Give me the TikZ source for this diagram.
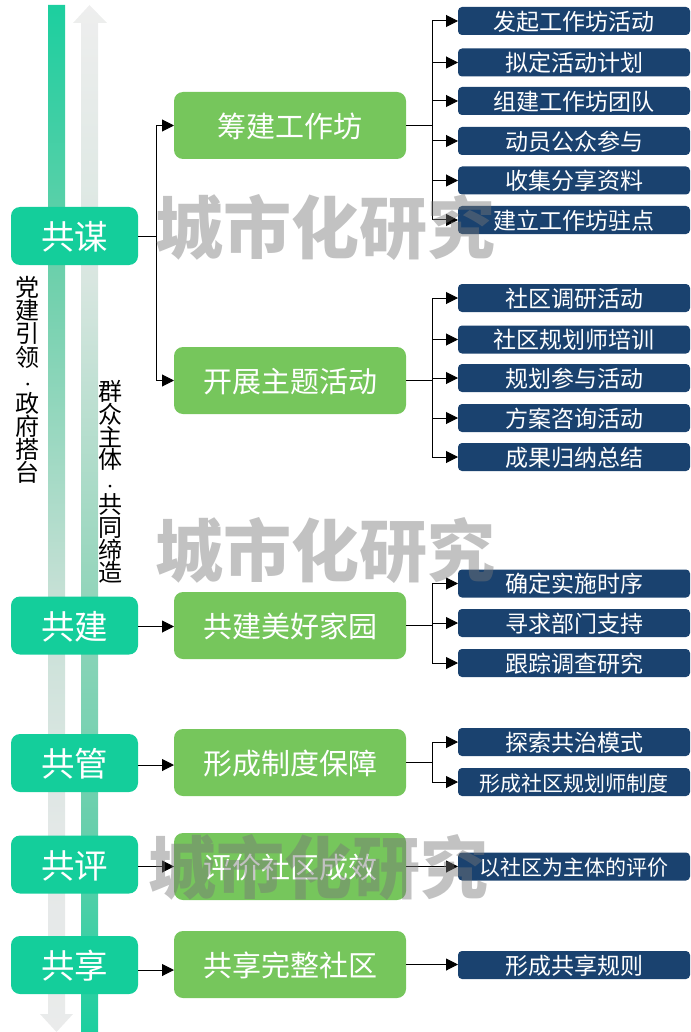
\documentclass[tikz,border=0pt]{standalone}
\usepackage{fontspec}
\setmainfont{Noto Sans CJK SC}
\usepackage{tikz}
\usetikzlibrary{arrows.meta,calc,positioning}
\definecolor{gongteal}{HTML}{14CE9B}
\definecolor{stagegreen}{HTML}{76C65C}
\definecolor{tasknavy}{HTML}{1A426F}
\definecolor{markgray}{HTML}{777777}
\definecolor{barfull}{HTML}{1CCF9F}
\definecolor{fallone}{HTML}{6FD0AC}
\definecolor{falltwo}{HTML}{C5E0D5}
\definecolor{fallthree}{HTML}{E3E8E7}
\definecolor{fallend}{HTML}{EAEBEB}
\definecolor{riseone}{HTML}{68CFAC}
\definecolor{risetwo}{HTML}{93D5BB}
\definecolor{risethree}{HTML}{D8E6E0}
\definecolor{riseend}{HTML}{EEEEEE}
\pgfdeclareverticalshading{barfall}{100bp}{color(0bp)=(fallend); color(25bp)=(fallend);
    color(35bp)=(fallthree); color(46.5bp)=(falltwo); color(61.6bp)=(fallone);
    color(75bp)=(barfull); color(100bp)=(barfull)}
\pgfdeclareverticalshading{barrise}{100bp}{color(0bp)=(barfull); color(25bp)=(barfull);
    color(35bp)=(riseone); color(46.5bp)=(risetwo); color(61.6bp)=(risethree);
    color(75bp)=(riseend); color(100bp)=(riseend)}
\tikzstyle{edge}    =[-{Triangle[length=12pt,width=12pt]}, line width=1pt]
\tikzstyle{trunk}   =[line width=1pt]
\tikzstyle{gongbox} =[rectangle, rounded corners=9pt, fill=gongteal, text=white,
                      minimum width=127pt, minimum height=58pt, inner sep=0pt,
                      outer sep=0pt, text height=30pt, text depth=2.6pt,
                      font=\fontsize{33.5pt}{36pt}\selectfont]
\tikzstyle{stagebox}=[rectangle, rounded corners=9pt, fill=stagegreen, text=white,
                      minimum width=232pt, minimum height=67pt, inner sep=0pt,
                      outer sep=0pt, text height=26pt, text depth=2.2pt,
                      font=\fontsize{29pt}{32pt}\selectfont]
\tikzstyle{taskbox} =[rectangle, rounded corners=4pt, fill=tasknavy, text=white,
                      minimum width=232pt, minimum height=28pt, inner sep=0pt,
                      outer sep=0pt, text height=20.8pt, text depth=2pt,
                      font=\fontsize{23pt}{25pt}\selectfont]
\tikzstyle{sidetext}=[align=center, inner sep=0pt, text=black]
\tikzstyle{watermark}=[text=markgray, text opacity=0.45, inner sep=0pt,
                      font=\fontsize{68pt}{70pt}\selectfont\bfseries]
\newcommand{\sidedot}{{\fontsize{13pt}{22pt}\selectfont ·}}
\begin{document}
\begin{tikzpicture}[x=1pt, y=-1pt]
    \useasboundingbox (0,0) rectangle (690,1032);

    % the two long bars
    \path[shading=barfall]
        (48,5) -- (65,5) -- (65,1014) -- (73,1014) -- (56.5,1032) -- (40,1014) -- (48,1014) -- cycle;
    \path[shading=barrise]
        (89.5,5) -- (107,23) -- (98,23) -- (98,1032) -- (81,1032) -- (81,23) -- (73,23) -- cycle;

    \node[sidetext, font=\fontsize{24pt}{23.1pt}\selectfont] (lefttext) at (28,380)
        {党\\建\\引\\领\\\sidedot\\政\\府\\搭\\台};
    \node[sidetext, font=\fontsize{24pt}{22.6pt}\selectfont] (righttext) at (110,482)
        {群\\众\\主\\体\\\sidedot\\共\\同\\缔\\造};

    % left column
    \foreach \name/\ypos/\txt in {gm/236/共谋, gj/625.5/共建, gg/763/共管, gp/864.5/共评, gx/965/共享}
        \node[gongbox] (\name) at (74.5,\ypos) {\txt};

    % middle column
    \foreach \name/\ypos/\txt in {s1/125.5/筹建工作坊, s2/380.5/开展主题活动, s3/625.5/共建美好家园,
                                  s4/762.5/形成制度保障, s5/866.5/评价社区成效, s6/964.5/共享完整社区}
        \node[stagebox] (\name) at (290,\ypos) {\txt};

    % right column
    \foreach \name/\ypos/\txt in {a1/21/发起工作坊活动, a2/62.5/拟定活动计划, a3/101/组建工作坊团队,
                                  a4/141/动员公众参与, a5/180.5/收集分享资料, a6/220/建立工作坊驻点,
                                  b1/298/社区调研活动, b2/339.5/社区规划师培训, b3/378/规划参与活动,
                                  b4/418/方案咨询活动, b5/457/成果归纳总结,
                                  c1/583.5/确定实施时序, c2/623/寻求部门支持, c3/663/跟踪调查研究,
                                  d1/742/探索共治模式}
        \node[taskbox] (\name) at (574,\ypos) {\txt};
    \node[taskbox, font=\fontsize{21pt}{23pt}\selectfont] (d2) at (574,782) {形成社区规划师制度};
    \node[taskbox, font=\fontsize{21pt}{23pt}\selectfont] (e1) at (574,866.5) {以社区为主体的评价};
    \node[taskbox] (f1) at (574,965) {形成共享规则};

    % connectors, left to middle
    \coordinate (gmfork) at ($(gm.east)+(18,0)$);
    \draw[trunk] (gm.east) -- (gmfork);
    \draw[edge] (gmfork) |- (s1.west);
    \draw[edge] (gmfork) |- (s2.west);
    \draw[edge] ([yshift=-1pt]gj.east) -- ([yshift=-1pt]gj.east -| s3.west);
    \draw[edge] ([yshift=-2pt]gg.east) -- ([yshift=-2pt]gg.east -| s4.west);
    \draw[edge] ([yshift=-2pt]gp.east) -- ([yshift=-2pt]gp.east -| s5.west);
    \draw[edge] ([yshift=-5pt]gx.east) -- ([yshift=-5pt]gx.east -| s6.west);

    % connectors, middle to right
    \foreach \from/\targets in {s1/{a1,a2,a3,a4,a5,a6}, s2/{b1,b2,b3,b4,b5}, s3/{c1,c2,c3}, s4/{d1,d2}}{
        \coordinate (\from fork) at ($(\from.east)+(26,0)$);
        \draw[trunk, line width=1.5pt] (\from.east) -- (\from fork);
        \foreach \to in \targets
            \draw[edge] (\from fork) |- (\to.west);
    }
    \draw[edge] (s5.east) -- (e1.west);
    \draw[edge] (s6.east) -- (s6.east -| f1.west);

    % text laid over everything
    \node[watermark] (mark1) at (325,228) {城市化研究};
    \node[watermark] (mark2) at (325,551) {城市化研究};
    \node[watermark] (mark3) at (318,868) {城市化研究};
\end{tikzpicture}
\end{document}
